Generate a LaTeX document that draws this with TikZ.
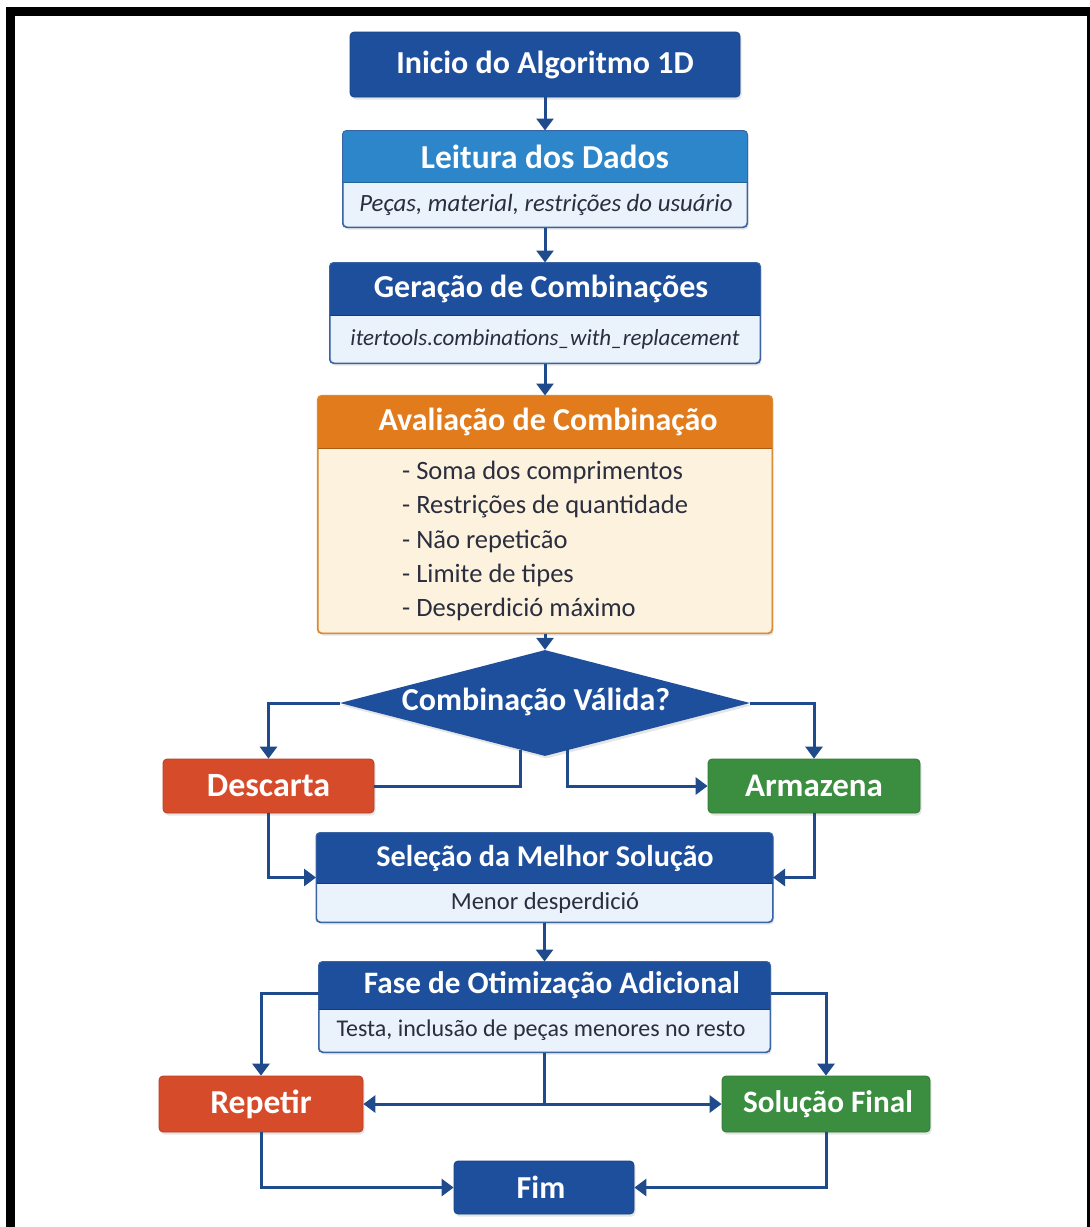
\documentclass[tikz,border=0pt]{standalone}
\usepackage{fontspec}
\setmainfont{Carlito}
\usetikzlibrary{shapes.geometric,arrows.meta,shadows,calc}
\definecolor{dblue}{HTML}{1E4F9C}
\definecolor{lblue}{HTML}{2C86C9}
\definecolor{bodyb}{HTML}{EAF2FB}
\definecolor{bordb}{HTML}{3A64A3}
\definecolor{orng}{HTML}{E17B1B}
\definecolor{cream}{HTML}{FDF2DE}
\definecolor{bordo}{HTML}{D98B35}
\definecolor{redc}{HTML}{D64B2A}
\definecolor{greenc}{HTML}{3B8E40}
\definecolor{arrowc}{HTML}{1F4A8C}
\definecolor{txtd}{HTML}{2A2E3E}
\newcommand{\hdrfill}[3]{%
  \begin{scope}
    \clip[rounded corners=4pt] (#1.north west) rectangle (#1.south east);
    \fill[#3] (#1.north west) rectangle (#1.east |- 0,#2);
  \end{scope}
  \draw[#3!75!black, line width=0.6pt] (#1.west |- 0,#2) -- (#1.east |- 0,#2);
}
\newcommand{\fsz}[1]{\fontsize{#1}{#1}\selectfont}
\begin{document}
\begin{tikzpicture}[x=1pt,y=-1pt,
  conn/.style={line width=3pt, draw=arrowc},
  arr/.style={conn, -{Triangle[width=17pt,length=12pt]}},
  shd/.style={drop shadow={opacity=0.2,shadow xshift=1.5pt,shadow yshift=-2.5pt}},
  solidbox/.style={rectangle, rounded corners=4pt, inner sep=0pt, shd, fill=#1, draw=#1!85!black, line width=0.8pt},
  twobox/.style={rectangle, rounded corners=4pt, inner sep=0pt, shd, fill=#1, line width=1pt},
  htext/.style={text=white, font=\bfseries\fsz{32}, inner sep=0pt},
  itext/.style={text=txtd, font=\itshape\fsz{23}, inner sep=0pt},
  rtext/.style={text=txtd, font=\fsz{24}, inner sep=0pt},
]
\useasboundingbox (0,0) rectangle (1090,1227);
\fill[white] (0,0) rectangle (1090,1227);
\begin{scope}
  \clip (0,0) rectangle (1090,1227);
  \draw[black, line width=9pt] (10.5,1240) -- (10.5,11) -- (1091.5,11) -- (1091.5,1240);
\end{scope}

% start
\node[solidbox=dblue, minimum width=390, minimum height=65] (start) at (545,64.5) {};
\node[htext] (startT) at (start.center) {Inicio do Algoritmo 1D};

% leitura
\node[twobox=bodyb, draw=bordb, minimum width=404, minimum height=96] (lei) at (545,179) {};
\hdrfill{lei}{182}{lblue}
\draw[bordb, line width=1pt, rounded corners=4pt] (lei.north west) rectangle (lei.south east);
\node[htext, font=\bfseries\fsz{33.5}] (leiT) at (545,156.5) {Leitura dos Dados};
\node[itext, font=\itshape\fsz{24.8}] (leiB) at (546,204.5) {Peças, material, restrições do usuário};

% geracao
\node[twobox=bodyb, draw=bordb, minimum width=430, minimum height=100] (ger) at (545,313) {};
\hdrfill{ger}{315}{dblue}
\draw[bordb, line width=1pt, rounded corners=4pt] (ger.north west) rectangle (ger.south east);
\node[htext] (gerT) at (541,289) {Geração de Combinações};
\node[itext] (gerB) at (545,339) {itertools.combinations\_with\_replacement};

% avaliacao
\node[twobox=cream, draw=bordo, minimum width=454, minimum height=237] (ava) at (545,514.5) {};
\hdrfill{ava}{448}{orng}
\draw[bordo, line width=1.2pt, rounded corners=4pt] (ava.north west) rectangle (ava.south east);
\node[htext] (avaT) at (548,422) {Avaliação de Combinação};
\node[text=txtd, font=\fontsize{26.5}{34.25}\selectfont, align=left, anchor=west, inner sep=0pt] (avaB) at (402,541)
  {- Soma dos comprimentos\\- Restrições de quantidade\\- Não repeticão\\- Limite de tipes\\- Desperdició máximo};

% decision
\node[diamond, aspect=3.87, minimum width=410, minimum height=106, inner sep=0pt, fill=dblue, shd] (val) at (545,703) {};
\node[htext] (valT) at (536,702) {Combinação Válida?};
\coordinate (vl) at ($(val.south)+(-25,-6.5)$);
\coordinate (vr) at ($(val.south)+(22,-8)$);

% descarta / armazena
\node[solidbox=redc, minimum width=211, minimum height=54] (des) at (268.5,786) {};
\node[htext, font=\bfseries\fsz{34}] (desT) at (des.center) {Descarta};
\node[solidbox=greenc, minimum width=212, minimum height=54] (arm) at (814,786) {};
\node[htext, font=\bfseries\fsz{33}] (armT) at (arm.center) {Armazena};

% selecao
\node[twobox=bodyb, draw=bordb, minimum width=456, minimum height=89] (sel) at (544.5,877.5) {};
\hdrfill{sel}{883}{dblue}
\draw[bordb, line width=1pt, rounded corners=4pt] (sel.north west) rectangle (sel.south east);
\node[htext, font=\bfseries\fsz{30.2}] (selT) at (545,858) {Seleção da Melhor Solução};
\node[rtext, font=\fsz{24.5}] (selB) at (545,902.5) {Menor desperdició};

% fase
\node[twobox=bodyb, draw=bordb, minimum width=451, minimum height=90] (fase) at (544.5,1007) {};
\hdrfill{fase}{1009}{dblue}
\draw[bordb, line width=1pt, rounded corners=4pt] (fase.north west) rectangle (fase.south east);
\node[htext, font=\bfseries\fsz{31.2}] (faseT) at (552,985.5) {Fase de Otimização Adicional};
\node[rtext] (faseB) at (541,1030.5) {Testa, inclusão de peças menores no resto};

% repetir / solucao final / fim
\node[solidbox=redc, minimum width=204, minimum height=56] (rep) at (261,1104) {};
\node[htext, font=\bfseries\fsz{33.5}] (repT) at (rep.center) {Repetir};
\node[solidbox=greenc, minimum width=208, minimum height=56] (sol) at (826,1104) {};
\node[htext, font=\bfseries\fsz{31.2}] (solT) at (828,1104) {Solução Final};
\node[solidbox=dblue, minimum width=180, minimum height=53] (fim) at (544,1187.5) {};
\node[htext] (fimT) at (541,1187.5) {Fim};

% connectors
\draw[arr] (start.south) -- (lei.north);
\draw[arr] (lei.south) -- (ger.north);
\draw[arr] (ger.south) -- (ava.north);
\draw[arr] (ava.south) -- (val.north);
\draw[arr] (val.west) -| (des.north);
\draw[arr] (val.east) -| (arm.north);
\draw[conn] (vl) |- (des.east);
\draw[arr] (vr) |- (arm.west);
\draw[arr] (des.south) |- (sel.west);
\draw[arr] (arm.south) |- (sel.east);
\draw[arr] (sel.south) -- (fase.north);
\draw[arr] ([yshift=14pt]fase.west) -| (rep.north);
\draw[arr] ([yshift=14pt]fase.east) -| (sol.north);
\coordinate (fj) at (fase.south |- rep.east);
\draw[conn] (fase.south) -- (fj);
\draw[arr] (fj) -- (rep.east);
\draw[arr] (fj) -- (sol.west);
\draw[arr] (rep.south) |- (fim.west);
\draw[arr] (sol.south) |- (fim.east);
\end{tikzpicture}
\end{document}
